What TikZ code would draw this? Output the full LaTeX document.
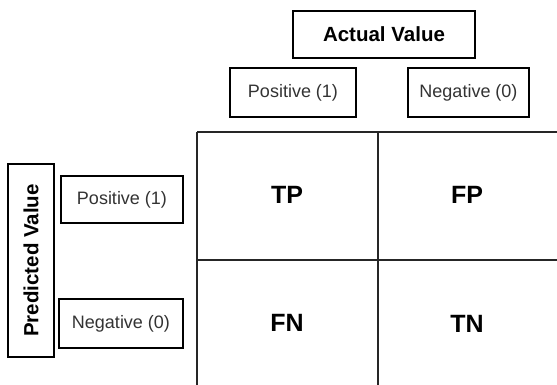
\documentclass[tikz,border=0pt]{standalone}
\usepackage{fontspec}
\setmainfont{Liberation Sans}
\begin{document}
\begin{tikzpicture}[x=1pt,y=-1pt,
  box/.style={draw=black,line width=1.2pt,inner sep=0pt},
  lbl/.style={box,text=black!80,font=\fontsize{18}{20}\selectfont},
  hdr/.style={box,text=black,font=\bfseries\fontsize{20.5}{22}\selectfont},
  cell/.style={text=black,font=\bfseries\fontsize{25}{27}\selectfont},
  grid/.style={draw=black!85,line width=1.2pt}]
\useasboundingbox[fill=white] (0,0) rectangle (557,385);
% header boxes
\node[hdr,minimum width=182pt,minimum height=47pt] (actual) at (384,34.5) {Actual Value};
\node[lbl,minimum width=126pt,minimum height=49pt] (apos) at (293,92.5) {Positive (1)};
\node[lbl,minimum width=121pt,minimum height=49pt] (aneg) at (468.5,92.5) {Negative (0)};
\node[hdr,rotate=90,minimum width=193pt,minimum height=46pt] (pred) at (31,260.5) {Predicted Value};
\node[lbl,minimum width=122pt,minimum height=47pt] (ppos) at (122,199.5) {Positive (1)};
\node[lbl,minimum width=124pt,minimum height=49pt] (pneg) at (121,323.5) {Negative (0)};
% grid
\coordinate (g1) at (197,132);
\coordinate (g2) at (378,132);
\coordinate (g3) at (557,132);
\coordinate (m1) at (197,260);
\coordinate (m3) at (557,260);
\coordinate (b1) at (197,385);
\coordinate (b2) at (378,385);
\draw[grid] (g1) -- (g3);
\draw[grid] (m1) -- (m3);
\draw[grid] (g1) -- (b1);
\draw[grid] (g2) -- (b2);
% cells
\node[cell] (tp) at (287,195) {TP};
\node[cell] (fp) at (467,195) {FP};
\node[cell] (fn) at (287,323) {FN};
\node[cell] (tn) at (467,324) {TN};
\end{tikzpicture}
\end{document}
